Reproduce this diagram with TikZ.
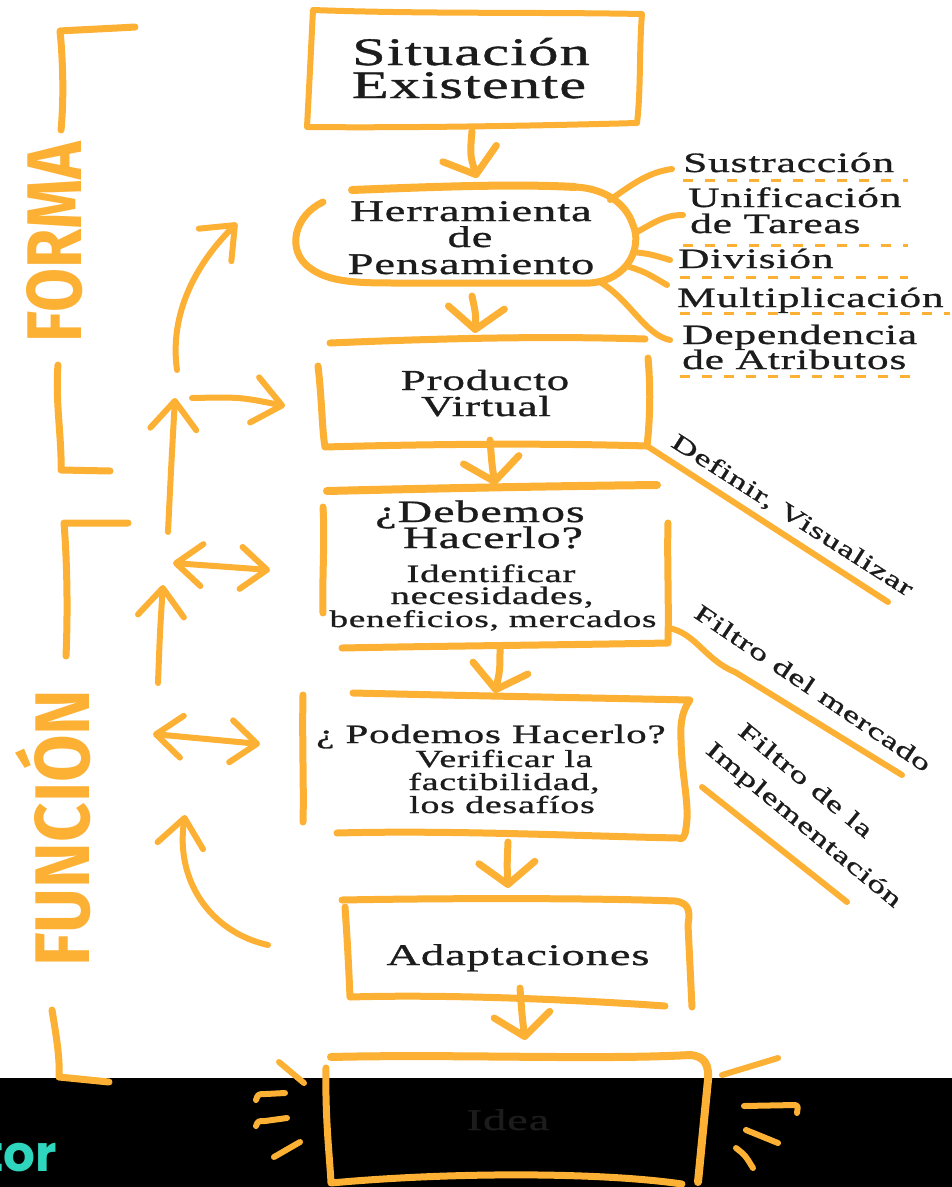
\documentclass[tikz,border=0pt]{standalone}
\usepackage{graphicx}
\usepackage{fontspec}
\setmainfont{Liberation Serif}
\newfontfamily\sketchfont[FakeStretch=1.55,LetterSpace=3,FakeBold=1]{Liberation Serif}
\newfontfamily\markerfont{Fira Sans}
\newfontfamily\brandfont{Poppins}
\usetikzlibrary{arrows.meta}
\definecolor{mango}{RGB}{252,176,52}
\definecolor{ink}{RGB}{28,28,28}
\definecolor{aqua}{RGB}{47,214,190}
\newcommand{\txtsize}[1]{\fontsize{#1}{#1}\selectfont}
\tikzset{
  sketch/.style={draw=mango, line width=7pt, line cap=round, line join=round},
  ray/.style={sketch, line width=6pt},
  flow/.style={sketch, -{Straight Barb[length=22pt,width=56pt,round]}},
  sidearrow/.style={sketch, line width=6pt, -{Straight Barb[length=28pt,width=46pt,round]}},
  twoway/.style={sketch, line width=6pt, {Straight Barb[length=26pt,width=42pt,round]}-{Straight Barb[length=26pt,width=42pt,round]}},
  dashrule/.style={draw=mango, line width=3pt, dash pattern=on 10pt off 12pt},
  lbl/.style={font=\sketchfont, text=ink, inner sep=0pt, anchor=base},
  toolitem/.style={lbl, anchor=base west, font=\sketchfont\txtsize{28}},
  slant/.style={lbl, anchor=center, font=\sketchfont\txtsize{23.5}},
}
\begin{document}
\begin{tikzpicture}[x=1pt, y=-1pt]
  \useasboundingbox (0,0) rectangle (952,1187);
  \fill[black] (0,1078) rectangle (952,1187);

  % side labels
  \node[inner sep=0pt, rotate=90, text=mango, font=\markerfont\bfseries] (forma) at (55,242) {\resizebox{201pt}{55pt}{FORMA}};
  \node[inner sep=0pt, rotate=90, text=mango, font=\markerfont\bfseries] (funcion) at (53,828) {\resizebox{277pt}{74pt}{FUNCIÓN}};
  \draw[sketch] (135,27) .. controls (100,29) and (75,30) .. (60,31) .. controls (63,60) and (64,100) .. (61,130);
  \draw[sketch] (58,365) .. controls (55,400) and (62,440) .. (61,470) -- (110,471);
  \draw[sketch] (128,523) -- (64,523) .. controls (67,560) and (68,610) .. (66,656);
  \draw[sketch] (52,1010) .. controls (57,1040) and (60,1060) .. (59,1077) -- (109,1082);

  % box texts
  \node[lbl, font=\sketchfont\txtsize{39}] (sitA) at (471,65) {Situación};
  \node[lbl, font=\sketchfont\txtsize{39}] (sitB) at (469,98) {Existente};
  \node[lbl, font=\sketchfont\txtsize{30}] (herrA) at (471,221) {Herramienta};
  \node[lbl, font=\sketchfont\txtsize{30}] (herrB) at (470,247) {de};
  \node[lbl, font=\sketchfont\txtsize{30}] (herrC) at (471,274) {Pensamiento};
  \node[lbl, font=\sketchfont\txtsize{29}] (prodA) at (485,390) {Producto};
  \node[lbl, font=\sketchfont\txtsize{29}] (prodB) at (486,416) {Virtual};
  \node[lbl, font=\sketchfont\txtsize{31}] (debA) at (480,522) {¿Debemos};
  \node[lbl, font=\sketchfont\txtsize{31}] (debB) at (493,548) {Hacerlo?};
  \node[lbl, font=\sketchfont\txtsize{25}] (debC) at (491,582) {Identificar};
  \node[lbl, font=\sketchfont\txtsize{25}] (debD) at (492,604) {necesidades,};
  \node[lbl, font=\sketchfont\txtsize{24}] (debE) at (493,627) {beneficios, mercados};
  \node[lbl, font=\sketchfont\txtsize{26.5}] (podA) at (491,743) {¿ Podemos Hacerlo?};
  \node[lbl, font=\sketchfont\txtsize{24.5}] (podB) at (504,767) {Verificar la};
  \node[lbl, font=\sketchfont\txtsize{24.5}] (podC) at (504,790) {factibilidad,};
  \node[lbl, font=\sketchfont\txtsize{24.5}] (podD) at (502,813) {los desafíos};
  \node[lbl, font=\sketchfont\txtsize{30}] (adap) at (518,965) {Adaptaciones};
  \node[lbl, font=\sketchfont\txtsize{30}] (idea) at (508,1130) {Idea};

  % tool list
  \node[toolitem] (sus) at (683,172) {Sustracción};
  \node[toolitem] (unifA) at (688,207) {Unificación};
  \node[toolitem] (unifB) at (690,233) {de Tareas};
  \node[toolitem] (divi) at (678,268) {División};
  \node[toolitem] (mult) at (677,307) {Multiplicación};
  \node[toolitem] (depA) at (682,344) {Dependencia};
  \node[toolitem] (depB) at (682,369) {de Atributos};
  \draw[dashrule] (683,180) -- (908,180);
  \draw[dashrule] (683,245) -- (908,245);
  \draw[dashrule] (680,277) -- (908,277);
  \draw[dashrule] (680,313) -- (950,313);
  \draw[dashrule] (680,376) -- (910,376);

  % filters
  \node[slant, rotate=-32.5] (defin) at (792,516) {Definir, Visualizar};
  \node[slant, rotate=-34] (fmerc) at (813,688) {Filtro del mercado};
  \node[slant, rotate=-39.5] (fimpA) at (806,780) {Filtro de la};
  \node[slant, rotate=-39.5] (fimpB) at (803,826) {Implementación};

  % boxes
  \draw[sketch, line width=6pt] (313,10) .. controls (420,14) and (540,12) .. (642,14) .. controls (639,50) and (641,90) .. (637,123) .. controls (530,126) and (400,128) .. (307,127) .. controls (309,90) and (311,50) .. cycle;
  \draw[sketch, line width=8pt] (352,190) .. controls (450,186) and (520,184) .. (575,187);
  \draw[sketch] (323,202) .. controls (295,215) and (285,250) .. (310,268) .. controls (330,283) and (360,283) .. (400,283) -- (590,283) .. controls (630,280) and (642,245) .. (633,225) .. controls (625,200) and (600,188) .. (575,187);
  \draw[sketch] (330,343) .. controls (450,338) and (550,336) .. (645,339);
  \draw[sketch] (318,366) .. controls (322,400) and (322,430) .. (325,447) .. controls (430,444) and (550,443) .. (647,446) .. controls (651,410) and (650,380) .. (648,358);
  \draw[sketch, line width=6pt] (647,446) -- (888,602);
  \draw[sketch, line width=8pt] (327,491) .. controls (450,488) and (560,486) .. (657,485);
  \draw[sketch] (323,507) .. controls (325,540) and (322,580) .. (323,613);
  \draw[sketch] (668,523) .. controls (667,560) and (669,600) .. (668,643) .. controls (560,645) and (440,646) .. (342,648);
  \draw[sketch, line width=6pt] (668,628) .. controls (695,632) and (705,660) .. (735,672) -- (902,775);
  \draw[sketch] (353,693) .. controls (480,696) and (600,698) .. (690,700) .. controls (683,710) and (680,720) .. (681,740) .. controls (682,780) and (690,805) .. (686,828) .. controls (685,838) and (682,840) .. (678,838) .. controls (580,836) and (450,830) .. (337,833);
  \draw[sketch] (303,695) .. controls (302,740) and (304,790) .. (303,822);
  \draw[sketch, line width=6pt] (702,787) -- (847,902);
  \draw[sketch] (342,900) .. controls (450,898) and (600,898) .. (675,901) .. controls (690,903) and (690,912) .. (688,925) -- (692,1007);
  \draw[sketch] (345,907) .. controls (348,950) and (349,975) .. (350,997) .. controls (450,994) and (580,1000) .. (665,1006);
  \draw[sketch, line width=8pt] (331,1057) .. controls (450,1054) and (600,1060) .. (690,1055) .. controls (705,1056) and (709,1065) .. (708,1080) -- (698,1182);
  \draw[sketch] (326,1068) .. controls (325,1120) and (330,1160) .. (331,1183) .. controls (450,1172) and (600,1172) .. (682,1184);

  % rays of the thinking tool
  \draw[ray] (610,200) .. controls (635,182) and (650,172) .. (672,169);
  \draw[ray] (637,232) .. controls (655,222) and (665,215) .. (683,215);
  \draw[ray] (633,252) .. controls (650,254) .. (670,260);
  \draw[ray] (627,266) .. controls (645,272) .. (667,285);
  \draw[ray] (600,282) .. controls (630,300) and (645,335) .. (670,340);

  % rays of the idea
  \draw[ray] (279,1062) -- (304,1083);
  \draw[ray] (256,1100) .. controls (258,1094) .. (266,1094) -- (285,1093);
  \draw[ray] (256,1126) .. controls (258,1121) .. (265,1121) -- (287,1118);
  \draw[ray] (274,1157) -- (300,1142);
  \draw[ray] (722,1075) -- (778,1058);
  \draw[ray] (744,1106) -- (795,1105) .. controls (798,1106) .. (797,1113);
  \draw[ray] (746,1130) -- (778,1143);
  \draw[ray] (736,1148) .. controls (745,1155) .. (753,1168);

  % main flow
  \coordinate (sitS) at (472,131);
  \coordinate (herrN) at (477,178);
  \coordinate (herrS) at (472,296);
  \coordinate (prodN) at (475,333);
  \coordinate (prodS) at (490,440);
  \coordinate (debN) at (495,485);
  \coordinate (debS) at (500,648);
  \coordinate (podN) at (495,693);
  \coordinate (podS) at (508,842);
  \coordinate (adapN) at (508,888);
  \coordinate (adapS) at (520,988);
  \coordinate (ideaN) at (525,1040);
  \draw[flow] (sitS) .. controls (470,155) .. (herrN);
  \draw[flow] (herrS) .. controls (476,315) .. (prodN);
  \draw[flow] (prodS) .. controls (492,465) .. (debN);
  \draw[flow] (debS) .. controls (500,670) .. (podN);
  \draw[flow] (podS) .. controls (507,865) .. (adapN);
  \draw[flow] (adapS) .. controls (522,1015) .. (ideaN);

  % feedback arrows
  \coordinate (fbA) at (177,370);
  \coordinate (fbAt) at (237,223);
  \coordinate (fbB) at (192,398);
  \coordinate (fbBt) at (285,406);
  \coordinate (fbC) at (168,532);
  \coordinate (fbCt) at (175,398);
  \coordinate (fbD) at (173,563);
  \coordinate (fbDt) at (270,570);
  \coordinate (fbE) at (158,683);
  \coordinate (fbEt) at (163,585);
  \coordinate (fbF) at (153,734);
  \coordinate (fbFt) at (260,744);
  \coordinate (fbG) at (268,945);
  \coordinate (fbGt) at (185,815);
  \draw[sidearrow] (fbA) .. controls (170,320) and (190,270) .. (fbAt);
  \draw[sidearrow] (fbB) .. controls (240,397) .. (fbBt);
  \draw[sidearrow] (fbC) .. controls (171,470) .. (fbCt);
  \draw[twoway] (fbD) -- (fbDt);
  \draw[sidearrow] (fbE) .. controls (160,630) .. (fbEt);
  \draw[twoway] (fbF) -- (fbFt);
  \draw[sidearrow] (fbG) .. controls (210,932) and (175,880) .. (fbGt);

  \node[anchor=base east, inner sep=0pt, text=aqua, font=\brandfont\bfseries\txtsize{50}] (brand) at (57,1171) {tor};
\end{tikzpicture}
\end{document}
